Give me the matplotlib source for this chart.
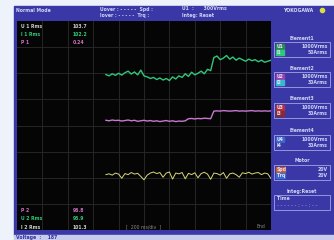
import matplotlib
matplotlib.use('Agg')
import matplotlib.pyplot as plt
from matplotlib.patches import Rectangle
import numpy as np

# trace samples, in screen divisions (10 x 8 grid), one every 0.125 div from 3.5 to 10
x_start, x_step = 3.5, 0.125
green = [5.95, 5.90, 5.98, 5.92, 6.00, 5.93, 6.02, 6.08, 5.97, 6.05, 5.94, 6.12,
         5.90, 5.86, 5.80, 5.84, 5.76, 5.82, 5.74, 5.80, 5.72, 5.86, 5.78, 5.90,
         5.84, 5.98, 5.88, 6.04, 5.94, 6.00, 6.08, 5.98, 6.15, 6.10,
         6.60, 6.66, 6.52, 6.58, 6.68, 6.54, 6.62, 6.50, 6.58, 6.52, 6.46, 6.54,
         6.48, 6.52, 6.44, 6.50, 6.42, 6.46, 6.50]
purple = [4.20, 4.18, 4.21, 4.19, 4.20, 4.17, 4.19, 4.21, 4.18, 4.20, 4.16, 4.18,
          4.20, 4.17, 4.19, 4.16, 4.18, 4.15, 4.17, 4.19, 4.16, 4.18, 4.15, 4.17,
          4.16, 4.18, 4.26, 4.27, 4.25, 4.27, 4.26, 4.28, 4.27, 4.26,
          4.55, 4.56, 4.55, 4.57, 4.56, 4.55, 4.56, 4.57, 4.55, 4.56, 4.55, 4.56,
          4.57, 4.55, 4.56, 4.55, 4.56, 4.55, 4.56]
yellow = [2.12, 2.15, 2.10, 2.18, 2.14, 1.98, 2.16, 2.12, 2.20, 2.14, 2.17, 2.05,
          1.92, 2.10, 2.18, 2.22, 2.16, 2.20, 2.02, 2.18, 2.22, 1.95, 2.18, 2.15,
          2.20, 1.96, 2.17, 2.12, 2.19, 2.00, 2.16, 2.21, 2.14, 1.94, 2.18, 2.16,
          2.10, 2.20, 1.98, 2.15, 2.18, 2.12, 2.02, 2.19, 2.16, 2.21, 2.14, 2.18,
          2.20, 2.12, 2.18, 2.15, 1.97]

elements = ['Element1', 'Element2', 'Element3', 'Element4']
el_ranges = [('U1', '1000Vrms', 'I1', '50Arms'), ('U2', '1000Vrms', 'I2', '30Arms'),
             ('U3', '1000Vrms', 'I3', '30Arms'), ('U4', '1000Vrms', 'I4', '30Arms')]
el_colors = [('#2a8a55', '#2fc87a'), ('#9a3fb0', '#36b8d0'),
             ('#b8303a', '#8a2a30'), ('#3a6ad0', '#3a3aa8')]

top_left_lbl = ['U 1 Rms', 'I 1 Rms', 'P 1']
top_left_val = ['103.7', '102.2', '0.24']
top_left_col = ['#c8d0c8', '#2fc87a', '#d070c0']
bot_left_lbl = ['P 2', 'U 2 Rms', 'I 2 Rms']
bot_left_val = ['96.8', '95.9', '101.3']
bot_left_col = ['#d070c0', '#2fc87a', '#c8d0c8']

blue = '#3a37a6'
fig = plt.figure(figsize=(3.34, 2.40), dpi=100)
fig.patch.set_facecolor('#eef2fa')
bg = fig.add_axes([0, 0, 1, 1])
bg.set_xlim(0, 334)
bg.set_ylim(240, 0)
bg.axis('off')
bg.add_patch(Rectangle((14, 6), 320, 229, color=blue))
bg.add_patch(Rectangle((14, 235), 320, 5, color='#c8ccec'))

fs = 3.3
def t(x, y, s, c='#d0d4f4', **kw):
    bg.text(x, y, s, color=c, fontsize=fs, va='center', fontweight='bold', **kw)

# header
t(16, 10, 'Normal Mode')
t(100, 9, 'Uover : - - - - -  Spd :')
t(100, 16, 'Iover : - - - - -  Trq :')
t(182, 9, 'U1  :      300Vrms')
t(182, 16, 'Integ: Reset')
t(283, 10, 'YOKOGAWA', c='#d8dcf4')
bg.plot(322, 9.5, 'o', color='#d8e040', ms=3)
t(16, 238, 'Voltage  :    187', c='#3030a0')

# right panel
tops = [38, 68, 99, 131]
for name, rng, cols, y0 in zip(elements, el_ranges, el_colors, tops):
    t(302, y0, name, ha='center')
    bg.add_patch(Rectangle((274, y0 + 4), 56, 15, fill=False, ec='#b8bcf0', lw=0.5))
    bg.add_patch(Rectangle((276, y0 + 6), 8, 5, color=cols[0]))
    bg.add_patch(Rectangle((276, y0 + 12), 8, 5, color=cols[1]))
    t(277, y0 + 8.5, rng[0], c='#e0e0f8')
    t(328, y0 + 8.5, rng[1], ha='right')
    t(277, y0 + 14.5, rng[2], c='#e0e0f8')
    t(328, y0 + 14.5, rng[3], ha='right')

t(302, 161, 'Motor', ha='center')
bg.add_patch(Rectangle((274, 165), 56, 15, fill=False, ec='#b8bcf0', lw=0.5))
bg.add_patch(Rectangle((276, 167), 9, 5, color='#c85a30'))
bg.add_patch(Rectangle((276, 173), 9, 5, color='#3a6ad0'))
t(277, 169.5, 'Spd', c='#e0e0f8')
t(328, 169.5, '20V', ha='right')
t(277, 175.5, 'Trq', c='#e0e0f8')
t(328, 175.5, '20V', ha='right')

t(302, 191, 'Integ:Reset', ha='center')
bg.add_patch(Rectangle((274, 195), 56, 15, fill=False, ec='#b8bcf0', lw=0.5))
t(277, 199, 'Time')
t(277, 205.5, '- - - - - - : - - : - -', c='#7a7ed0')

# plot area
ax = fig.add_axes([17 / 334, 1 - 230 / 240, 254 / 334, 209 / 240])
ax.set_facecolor('#050505')
ax.set_xlim(0, 10)
ax.set_ylim(0, 8)
ax.set_xticks(np.arange(1, 10))
ax.set_yticks(np.arange(1, 8))
ax.grid(True, color='#262626', lw=0.7)
ax.tick_params(length=0, labelbottom=False, labelleft=False)
for sp in ax.spines.values():
    sp.set_visible(False)

xs = x_start + x_step * np.arange(len(green))
ax.plot(xs, green, color='#2fc87a', lw=1.0)
ax.plot(xs, purple, color='#c878d0', lw=1.0)
ax.plot(xs, yellow, color='#d8d878', lw=0.7)

for i in range(3):
    ax.text(0.15, 7.8 - i * 0.32, top_left_lbl[i], color=top_left_col[i], fontsize=fs, va='center', fontweight='bold')
    ax.text(2.2, 7.8 - i * 0.32, top_left_val[i], color=top_left_col[i], fontsize=fs, va='center', fontweight='bold')
    ax.text(0.15, 0.75 - i * 0.32, bot_left_lbl[i], color=bot_left_col[i], fontsize=fs, va='center', fontweight='bold')
    ax.text(2.2, 0.75 - i * 0.32, bot_left_val[i], color=bot_left_col[i], fontsize=fs, va='center', fontweight='bold')
ax.text(5.0, 0.12, '[  200 ms/div  ]', color='#8a8a8a', fontsize=fs, ha='center', va='center')
ax.text(9.6, 0.12, 'End', color='#8a8a8a', fontsize=fs, ha='center', va='center')

fig.savefig('out.png', dpi=100, facecolor=fig.get_facecolor())
